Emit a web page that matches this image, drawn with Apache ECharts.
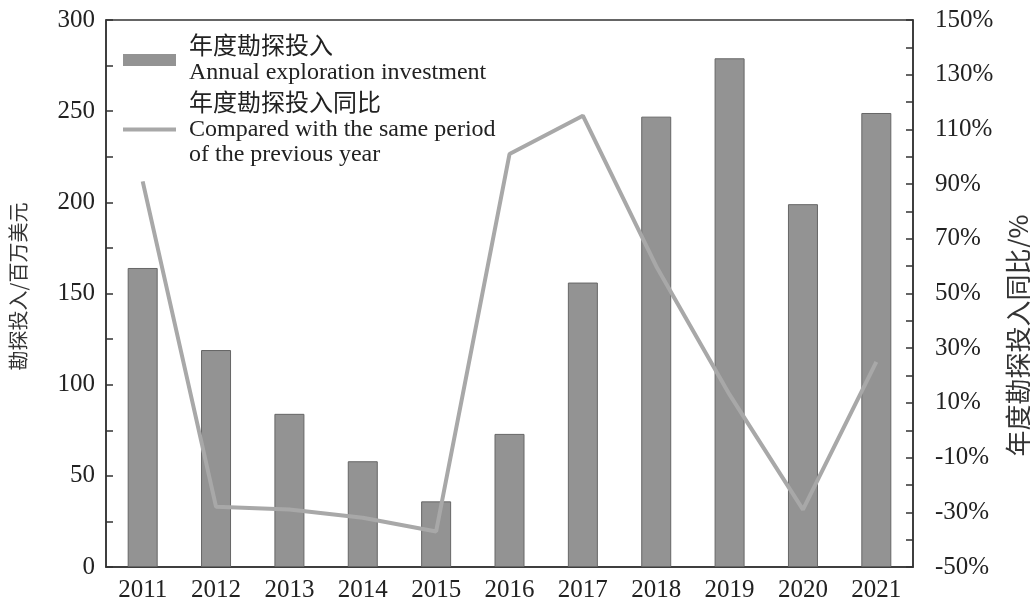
<!DOCTYPE html>
<html>
<head>
<meta charset="utf-8">
<script src="https://cdn.jsdelivr.net/npm/echarts@6/dist/echarts.min.js"></script>
<style>
    html, body { margin: 0; padding: 0; background: #fff; }
    #graph { width: 1030px; height: 605px; }
</style>
</head>
<body>
<div id="graph"></div>
<script>
// 年份
var years = ['2011', '2012', '2013', '2014', '2015', '2016', '2017', '2018', '2019', '2020', '2021'];
// 年度勘探投入 (百万美元)
var investment = [164, 119, 84, 58, 36, 73, 156, 247, 279, 199, 249];
// 同比 (%)
var yoy = [91, -28, -29, -32, -37, 101, 115, 60, 13, -29, 25];

var serif = '"Liberation Serif", "Noto Sans CJK SC", serif';
var cjk = '"Noto Sans CJK SC", "Liberation Serif", sans-serif';
var axisColor = '#333';
var barName = '年度勘探投入\nAnnual exploration investment';
var lineName = '年度勘探投入同比\nCompared with the same period\nof the previous year';

var chart = echarts.init(document.getElementById('graph'));

var chartOption = {
    backgroundColor: '#fff',
    animation: false,
    grid: {
        left: 106, right: 117, top: 20, bottom: 38,
        containLabel: false, outerBoundsMode: 'none',
        show: true, borderColor: axisColor, borderWidth: 1.5, backgroundColor: 'transparent'
    },
    legend: {
        orient: 'vertical',
        left: 118, top: 30,
        itemWidth: 53, itemHeight: 12, itemGap: 7,
        textStyle: { fontFamily: serif, fontSize: 24, color: '#222', lineHeight: 25, padding: [0, 0, 0, 8] },
        data: [
            { name: barName, icon: 'rect', itemStyle: { borderWidth: 0 } },
            { name: lineName, icon: 'path://M0,0h53v4h-53z', itemStyle: { borderWidth: 0 } }
        ]
    },
    xAxis: {
        type: 'category',
        data: years,
        axisLine: { lineStyle: { color: axisColor, width: 1.5 } },
        axisTick: { show: false },
        axisLabel: { fontFamily: serif, fontSize: 25, color: '#222', margin: 11 }
    },
    yAxis: [{
        type: 'value',
        min: 0, max: 300, interval: 25,
        name: '勘探投入/百万美元',
        nameLocation: 'middle', nameRotate: 90, nameGap: 78,
        nameTextStyle: { fontFamily: cjk, fontSize: 20, color: '#333', padding: [0, 0, 0, 14] },
        axisLine: { show: true, lineStyle: { color: axisColor, width: 1.5 } },
        axisTick: { show: true, inside: true, length: 7, lineStyle: { color: axisColor, width: 1.5 } },
        axisLabel: {
            fontFamily: serif, fontSize: 25, color: '#222', margin: 11,
            formatter: function (v) { return v % 50 === 0 ? String(v) : ''; }
        },
        splitLine: { show: false }
    }, {
        type: 'value',
        min: -50, max: 150, interval: 10,
        name: '年度勘探投入同比/%',
        nameLocation: 'middle', nameRotate: 90, nameGap: 92,
        nameTextStyle: { fontFamily: cjk, fontSize: 26, color: '#333', padding: [0, 84, 0, 0] },
        axisLine: { show: true, lineStyle: { color: axisColor, width: 1.5 } },
        axisTick: { show: true, inside: true, length: 7, lineStyle: { color: axisColor, width: 1.5 } },
        axisLabel: {
            fontFamily: serif, fontSize: 25, color: '#222', margin: 22,
            formatter: function (v) { return (v + 50) % 20 === 0 ? v + '%' : ''; }
        },
        splitLine: { show: false }
    }],
    series: [{
        name: barName,
        type: 'bar',
        yAxisIndex: 0,
        barWidth: 30,
        itemStyle: { color: '#939393', borderColor: '#666', borderWidth: 1 },
        data: investment
    }, {
        name: lineName,
        type: 'line',
        yAxisIndex: 1,
        symbol: 'none',
        lineStyle: { color: '#a8a8a8', width: 4 },
        itemStyle: { color: '#a8a8a8' },
        data: yoy
    }]
};

chart.setOption(chartOption);
</script>
</body>
</html>
